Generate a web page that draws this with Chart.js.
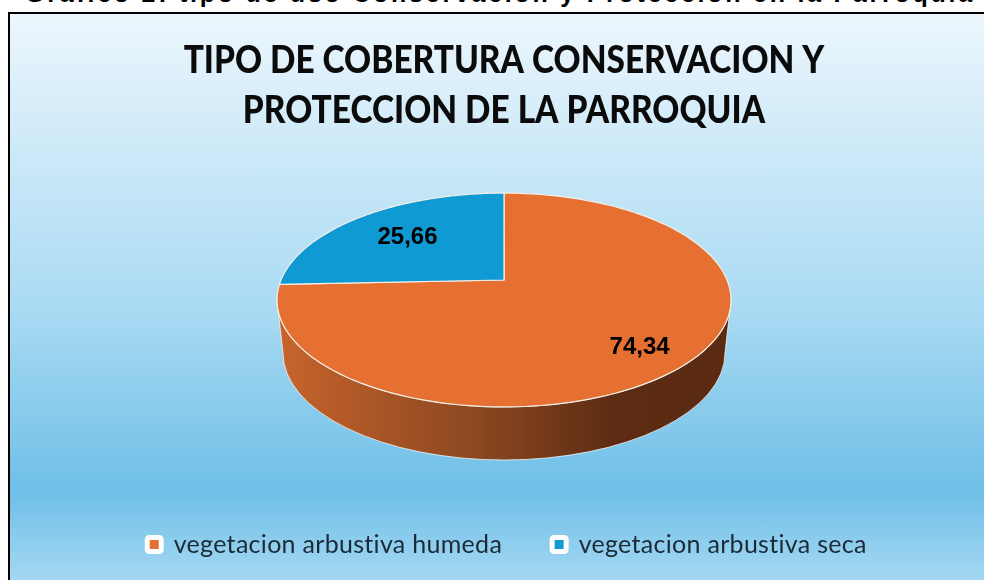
<!DOCTYPE html>
<html>
<head>
<meta charset="utf-8">
<title>Cobertura</title>
<script src="https://cdn.jsdelivr.net/npm/chart.js@4"></script>
<style>
    html, body { margin: 0; padding: 0; background: #fff; overflow: hidden; width: 984px; height: 580px; }
    #caption {
        position: absolute; left: 0; top: -21px; width: 1000px; text-align: center;
        font: bold 25px "Liberation Sans", sans-serif; letter-spacing: 2.75px; color: #000; white-space: nowrap;
    }
    #box {
        position: absolute; left: 8px; top: 12px; width: 988px; height: 568px;
        border-left: 2px solid #000; border-top: 2px solid #000;
        background: linear-gradient(180deg, #ecf6fd 0%, #a9daf3 52%, #6fbfe7 84%, #a5d8f3 100%);
    }
</style>
</head>
<body>
<div id="caption">Gráfico 2: tipo de uso Conservación y Protección en la Parroquia</div>
<div id="box"><canvas id="coberturaChart" width="988" height="568"></canvas></div>
<script>
const categories = ["vegetacion arbustiva humeda", "vegetacion arbustiva seca"];
const coverValues = [74.34, 25.66];
const sliceColors = ["#E67031", "#0F9AD4"];
const titleLines = ["TIPO DE COBERTURA CONSERVACION Y", "PROTECCION DE LA PARROQUIA"];

// tilted disc seen in perspective, angles come from the chart's arc elements
const tilt = { cy: 266, rx: 223, ry: 103.2, k: 0.187, depth: 53 };
const labelReach = [0.76, 0.65];
const labelDrop = [7, 0];

function project(x0, angle, reach) {
    const c = Math.cos(angle) * reach;
    const s = Math.sin(angle) * reach;
    const w = 1 - tilt.k * s;
    return { x: x0 + tilt.rx * c / w, y: tilt.cy + tilt.ry * s / w };
}

function tracePath(ctx, x0, start, end) {
    const steps = 160;
    for (let i = 0; i <= steps; i++) {
        const p = project(x0, start + (end - start) * i / steps, 1);
        ctx.lineTo(p.x, p.y);
    }
}

const pie3d = {
    id: "pie3d",
    beforeUpdate(chart) {
        // canvas state is reset when the chart sizes it, so set the spacing here
        chart.ctx.letterSpacing = "0.3px";
    },
    beforeDraw(chart) {
        const ctx = chart.ctx;
        const title = chart.titleBlock;
        const legend = chart.legend;
        if (title.narrowed) {
            return;
        }
        title.narrowed = true;
        const drawTitle = title.draw;
        title.draw = function () {
            // reference title is a condensed face, none is installed
            const mid = title.left + title.width / 2;
            ctx.save();
            ctx.letterSpacing = "0px";
            ctx.translate(mid, 0);
            ctx.scale(0.88, 1);
            ctx.translate(-mid, 0);
            drawTitle.call(title);
            ctx.restore();
        };
        const drawLegend = legend.draw;
        legend.draw = function () {
            ctx.save();
            ctx.translate(3, 0);
            drawLegend.call(legend);
            ctx.restore();
        };
    },
    beforeDatasetDraw(chart) {
        const ctx = chart.ctx;
        const arcs = chart.getDatasetMeta(0).data;
        const x0 = arcs[0].x;
        const apex = { x: x0, y: tilt.cy };

        // side wall
        const edgeA = Math.asin(tilt.k);
        const edgeB = Math.PI - edgeA;
        const right = project(x0, edgeA, 1);
        const left = project(x0, edgeB, 1);
        const wallY = right.y + tilt.depth;
        const grad = ctx.createLinearGradient(left.x, 0, right.x, 0);
        grad.addColorStop(0, "#C8642C");
        grad.addColorStop(0.45, "#8A4720");
        grad.addColorStop(0.75, "#5C2B12");
        grad.addColorStop(1, "#5A2A12");
        ctx.save();
        ctx.beginPath();
        ctx.moveTo(left.x, left.y);
        ctx.ellipse(x0, wallY, tilt.rx - 2, 107, 0, Math.PI, 0, true);
        ctx.lineTo(right.x, right.y);
        tracePath(ctx, x0, edgeA, edgeB);
        ctx.closePath();
        ctx.fillStyle = grad;
        ctx.fill();
        ctx.strokeStyle = "rgba(255,255,255,0.7)";
        ctx.lineWidth = 1;
        ctx.stroke();

        // top face
        arcs.forEach((arc, i) => {
            ctx.beginPath();
            ctx.moveTo(apex.x, apex.y);
            tracePath(ctx, x0, arc.startAngle, arc.endAngle);
            ctx.closePath();
            ctx.fillStyle = sliceColors[i];
            ctx.fill();
            ctx.strokeStyle = "#F4EFE8";
            ctx.lineWidth = 1.2;
            ctx.stroke();
        });

        // value labels
        ctx.fillStyle = "#000";
        ctx.letterSpacing = "0px";
        ctx.font = 'bold 24px "Liberation Sans", sans-serif';
        ctx.textAlign = "center";
        ctx.textBaseline = "middle";
        arcs.forEach((arc, i) => {
            const mid = (arc.startAngle + arc.endAngle) / 2;
            const p = project(x0, mid, labelReach[i]);
            ctx.fillText(coverValues[i].toFixed(2).replace(".", ","), p.x, p.y + labelDrop[i]);
        });
        ctx.restore();
        return false;
    }
};

new Chart(document.getElementById("coberturaChart").getContext("2d"), {
    type: "pie",
    data: {
        labels: categories,
        datasets: [{ data: coverValues, backgroundColor: sliceColors, borderColor: "#fff", borderWidth: 1 }]
    },
    options: {
        responsive: false,
        animation: false,
        layout: { padding: { bottom: 15 } },
        plugins: {
            title: {
                display: true,
                text: titleLines,
                color: "#0b0b0b",
                font: { family: "Lato, sans-serif", weight: "900", size: 38, lineHeight: 1.32 },
                padding: { top: 22, bottom: 10 }
            },
            legend: {
                position: "bottom",
                labels: {
                    color: "#1b2a36",
                    font: { family: "Lato, sans-serif", size: 25 },
                    boxWidth: 14,
                    boxHeight: 14,
                    padding: 50,
                    generateLabels: () => categories.map((name, i) => ({
                        text: name,
                        fillStyle: sliceColors[i],
                        strokeStyle: "#fff",
                        lineWidth: 5,
                        borderRadius: 2,
                        fontColor: "#1b2a36",
                        index: i
                    }))
                }
            },
            tooltip: { enabled: false }
        }
    },
    plugins: [pie3d]
});
</script>
</body>
</html>
